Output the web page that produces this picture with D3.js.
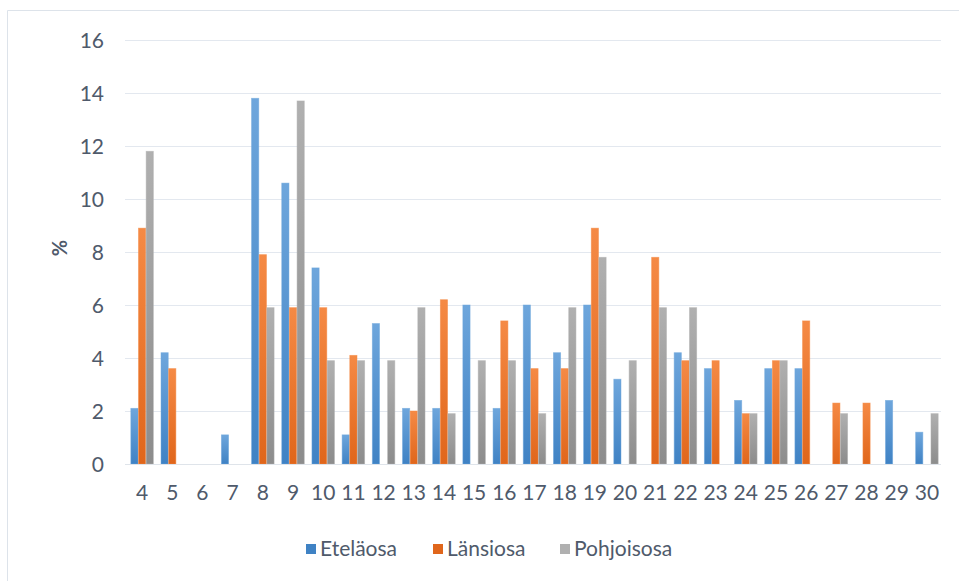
<!DOCTYPE html>
<html>
<head>
<meta charset="utf-8">
<script src="https://cdn.jsdelivr.net/npm/d3@7"></script>
<style>
  html, body { margin: 0; padding: 0; background: #fff; }
  svg { display: block; font-family: Lato, "Open Sans", "Noto Sans", sans-serif; }
</style>
</head>
<body>
<svg id="chart" width="959" height="581"></svg>
<script>
// Categories on the x axis
const categories = [4,5,6,7,8,9,10,11,12,13,14,15,16,17,18,19,20,21,22,23,24,25,26,27,28,29,30];
// Share (%) per category for each area; 0 = no bar
const etelaosa   = [2.1,4.2,0,1.1,13.8,10.6,7.4,1.1,5.3,2.1,2.1,6.0,2.1,6.0,4.2,6.0,3.2,0,4.2,3.6,2.4,3.6,3.6,0,0,2.4,1.2];
const lansiosa   = [8.9,3.6,0,0,7.9,5.9,5.9,4.1,0,2.0,6.2,0,5.4,3.6,3.6,8.9,0,7.8,3.9,3.9,1.9,3.9,5.4,2.3,2.3,0,0];
const pohjoisosa = [11.8,0,0,0,5.9,13.7,3.9,3.9,3.9,5.9,1.9,3.9,3.9,1.9,5.9,7.8,3.9,5.9,5.9,0,1.9,3.9,0,1.9,0,0,1.9];
const seriesNames = ["Eteläosa","Länsiosa","Pohjoisosa"];
const yTicks = [0,2,4,6,8,10,12,14,16];

const colors = {
  "Eteläosa":   ["#6ea6dc", "#3f82c4"],
  "Länsiosa":   ["#f58a45", "#e0661b"],
  "Pohjoisosa": ["#b0b0b0", "#8c8c8c"]
};
const seriesValues = { "Eteläosa": etelaosa, "Länsiosa": lansiosa, "Pohjoisosa": pohjoisosa };

const svg = d3.select("#chart");
const textColor = "#4f5a6b";

// Outer frame
svg.append("path")
  .attr("d", "M7.5,581 L7.5,10.5 L959,10.5")
  .attr("fill", "none").attr("stroke", "#dde3ea").attr("stroke-width", 1);

// Gradients for bar fills
const defs = svg.append("defs");
seriesNames.forEach((s, i) => {
  const g = defs.append("linearGradient").attr("id", "grad" + i)
    .attr("x1", 0).attr("y1", 0).attr("x2", 0).attr("y2", 1);
  g.append("stop").attr("offset", "0%").attr("stop-color", colors[s][0]);
  g.append("stop").attr("offset", "100%").attr("stop-color", colors[s][1]);
});

const x = d3.scaleBand().domain(categories).range([127, 942]).paddingInner(0).paddingOuter(0);
const inner = d3.scaleBand().domain(seriesNames).range([0, x.bandwidth()]).paddingInner(0.06).paddingOuter(0.5);
const y = d3.scaleLinear().domain([0, 16]).range([464, 40]);

// Horizontal gridlines
svg.append("g").selectAll("line").data(yTicks.filter(t => t > 0)).join("line")
  .attr("x1", 125).attr("x2", 941)
  .attr("y1", d => Math.round(y(d)) + 0.5).attr("y2", d => Math.round(y(d)) + 0.5)
  .attr("stroke", "#e3e8ef").attr("stroke-width", 1);

// Y axis tick labels
const yAxis = d3.axisLeft(y).tickValues(yTicks).tickSize(0).tickPadding(0);
const yg = svg.append("g").attr("transform", "translate(104,0)").call(yAxis);
yg.select(".domain").remove();
yg.selectAll("text").attr("fill", textColor).attr("font-size", 21).attr("dy", "0.35em")
  .style("font-family", "Lato, 'Open Sans', sans-serif");

// Bars
seriesNames.forEach((s, i) => {
  svg.append("g").selectAll("rect")
    .data(categories.map((c, k) => ({ c, v: seriesValues[s][k] })).filter(d => d.v > 0))
    .join("rect")
    .attr("x", d => x(d.c) + inner(s))
    .attr("width", inner.bandwidth())
    .attr("y", d => y(d.v))
    .attr("height", d => y(0) - y(d.v))
    .attr("fill", "url(#grad" + i + ")")
    .attr("stroke", colors[s][0]).attr("stroke-opacity", 0.6).attr("stroke-width", 0.8);
});

// Baseline
svg.append("line").attr("x1", 125).attr("x2", 941)
  .attr("y1", Math.round(y(0)) + 0.5).attr("y2", Math.round(y(0)) + 0.5)
  .attr("stroke", "#dfe4ea").attr("stroke-width", 1);

// X axis labels
const xAxis = d3.axisBottom(x).tickSize(0).tickPadding(0);
const xg = svg.append("g").attr("transform", "translate(0,485)").call(xAxis);
xg.select(".domain").remove();
xg.selectAll("text").attr("fill", textColor).attr("font-size", 21).attr("dy", "0.71em")
  .style("font-family", "Lato, 'Open Sans', sans-serif");

// Y axis title
svg.append("text")
  .attr("transform", "translate(67,248) rotate(-90)")
  .attr("text-anchor", "middle")
  .attr("fill", textColor).attr("font-size", 20).attr("font-weight", "bold")
  .text("%");

// Legend
const legendItems = [
  { name: "Eteläosa", x: 306 },
  { name: "Länsiosa", x: 433 },
  { name: "Pohjoisosa", x: 560 }
];
const lg = svg.append("g");
legendItems.forEach((it, i) => {
  lg.append("rect").attr("x", it.x).attr("y", 544).attr("width", 10).attr("height", 10)
    .attr("fill", colors[it.name][i === 2 ? 0 : 1]);
  lg.append("text").attr("x", it.x + 14).attr("y", 549).attr("dy", "0.35em")
    .attr("fill", textColor).attr("font-size", 21).text(it.name);
});
</script>
</body>
</html>
